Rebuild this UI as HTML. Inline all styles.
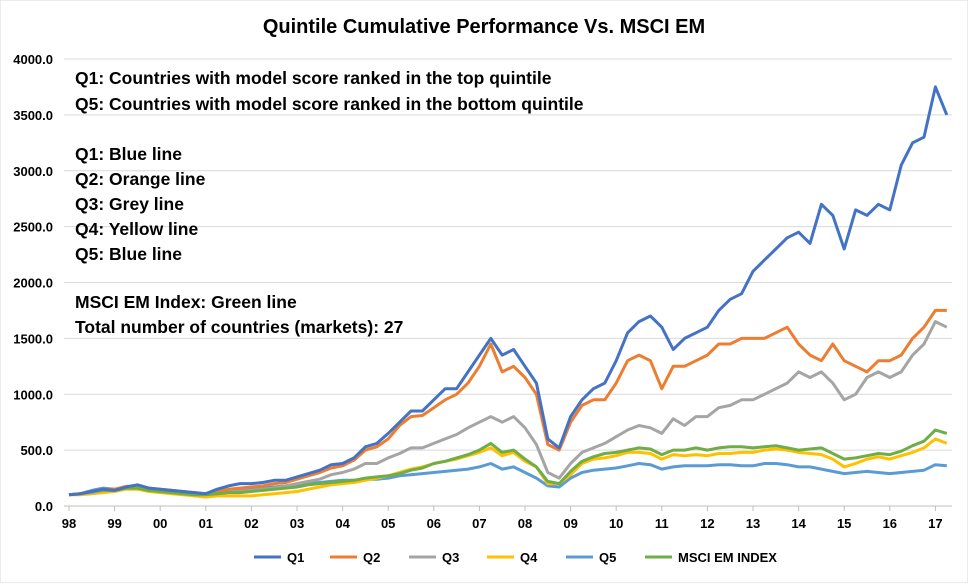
<!DOCTYPE html>
<html><head><meta charset="utf-8"><style>
body{margin:0;background:#fff;font-family:"Liberation Sans",sans-serif}
svg text{font-family:"Liberation Sans",sans-serif}
</style></head><body>
<svg id="c" width="968" height="583">
<rect width="968" height="583" fill="#fff" stroke="#d9d9d9"/>
<text x="484" y="33" text-anchor="middle" font-size="20" font-weight="bold" fill="#000">Quintile Cumulative Performance Vs. MSCI EM</text>
<g id="grid"></g><g id="axes"></g><g id="lines"></g>
<g font-size="17.5" font-weight="bold" fill="#000">
<text x="75" y="84">Q1: Countries with model score ranked in the top quintile</text>
<text x="75" y="110">Q5: Countries with model score ranked in the bottom quintile</text>
<text x="75" y="160">Q1: Blue line</text>
<text x="75" y="185">Q2: Orange line</text>
<text x="75" y="210">Q3: Grey line</text>
<text x="75" y="235">Q4: Yellow line</text>
<text x="75" y="260">Q5: Blue line</text>
<text x="75" y="308">MSCI EM Index: Green line</text>
<text x="75" y="333">Total number of countries (markets): 27</text>
</g>
<g id="legend"></g>
</svg>
<script>
const yTicks=[0,500,1000,1500,2000,2500,3000,3500,4000];
const xLabels=["98","99","00","01","02","03","04","05","06","07","08","09","10","11","12","13","14","15","16","17"];
const seriesNames=["Q1","Q2","Q3","Q4","Q5","MSCI EM INDEX"];
const q1=[100,110,130,150,140,170,190,160,150,140,130,120,110,150,180,200,200,210,230,230,260,290,320,370,380,430,530,560,650,750,850,850,950,1050,1050,1200,1350,1500,1350,1400,1250,1100,600,520,800,950,1050,1100,1300,1550,1650,1700,1600,1400,1500,1550,1600,1750,1850,1900,2100,2200,2300,2400,2450,2350,2700,2600,2300,2650,2600,2700,2650,3050,3250,3300,3750,3500];
const q2=[100,110,130,150,150,175,180,160,150,140,130,120,110,130,150,160,170,180,200,210,240,270,300,340,360,410,500,530,600,720,800,810,880,950,1000,1100,1250,1450,1200,1250,1150,1000,550,500,750,900,950,950,1100,1300,1350,1300,1050,1250,1250,1300,1350,1450,1450,1500,1500,1500,1550,1600,1450,1350,1300,1450,1300,1250,1200,1300,1300,1350,1500,1600,1750,1750];
const q3=[100,110,120,140,140,160,170,150,140,130,120,110,110,120,130,130,140,150,160,180,200,220,240,280,300,330,380,380,430,470,520,520,560,600,640,700,750,800,750,800,700,550,300,250,380,480,520,560,620,680,720,700,650,780,720,800,800,880,900,950,950,1000,1050,1100,1200,1150,1200,1100,950,1000,1150,1200,1150,1200,1350,1450,1650,1600];
const q4=[100,100,110,120,130,150,150,130,120,110,100,90,80,90,90,90,90,100,110,120,130,150,170,190,200,210,230,250,270,300,330,350,380,400,420,450,480,520,450,480,400,350,200,200,280,380,420,430,450,480,480,470,420,460,450,460,450,470,470,480,480,500,510,500,480,470,460,420,350,380,420,440,420,450,480,520,600,560];
const q5=[100,110,140,160,150,160,160,140,130,120,110,100,110,130,140,150,150,160,170,180,190,200,210,220,230,230,240,240,250,270,280,290,300,310,320,330,350,380,330,350,300,250,180,170,250,300,320,330,340,360,380,370,330,350,360,360,360,370,370,360,360,380,380,370,350,350,330,310,290,300,310,300,290,300,310,320,370,360];
const msci=[100,110,130,140,140,160,160,140,130,120,110,100,100,110,120,120,130,140,150,160,170,190,200,210,220,230,250,260,270,290,320,340,380,400,430,460,500,560,480,500,420,350,220,200,310,400,440,470,480,500,520,510,460,500,500,520,500,520,530,530,520,530,540,520,500,510,520,470,420,430,450,470,460,490,540,580,680,650];
const colors=["#4472c4","#ed7d31","#a5a5a5","#ffc000","#5b9bd5","#70ad47"];
const data=[q1,q2,q3,q4,q5,msci];
const NS="http://www.w3.org/2000/svg";
const X=t=>69+(t-1998)*45.6, Y=v=>506-v*0.11175;
function mk(tag,attrs,parent){const e=document.createElementNS(NS,tag);for(const k in attrs)e.setAttribute(k,attrs[k]);parent.appendChild(e);return e;}
const grid=document.getElementById('grid'),axes=document.getElementById('axes'),lines=document.getElementById('lines'),leg=document.getElementById('legend');
yTicks.forEach(v=>{
 const l=mk('line',{x1:64,x2:952,y1:Y(v),y2:Y(v),stroke:v===0?'#bfbfbf':'#d9d9d9','stroke-width':1},grid);
 
 
 const t=mk('text',{x:53,y:Y(v)+5,'text-anchor':'end','font-size':13,'font-weight':'bold'},axes);
 t.textContent=v.toFixed(1);
 
 
});
xLabels.forEach((s,i)=>{
 const tk=mk('line',{x1:X(1998+i),x2:X(1998+i),y1:506,y2:511,stroke:'#bfbfbf'},axes);
 
 
 const t=mk('text',{x:X(1998+i),y:528,'text-anchor':'middle','font-size':13,'font-weight':'bold'},axes);
 t.textContent=s;
 
 
});
[4,3,2,1,5,0].forEach(k=>{
 const pts=data[k].map((v,i)=>X(1998+i*0.25).toFixed(1)+','+Y(v).toFixed(1)).join(' ');
 const p=mk('polyline',{points:pts,fill:'none',stroke:colors[k],'stroke-width':3,'stroke-linejoin':'round'},lines);
 
 
});
const lx=[254,330,409,487,566,645];
seriesNames.forEach((n,i)=>{
 const g=mk('g',{},leg);
 
 
 mk('line',{x1:lx[i],x2:lx[i]+27,y1:557,y2:557,stroke:colors[i],'stroke-width':3},g);
 const t=mk('text',{x:lx[i]+33,y:562,'font-size':13,'font-weight':'bold'},g);
 t.textContent=n;
});
</script>
</body></html>
